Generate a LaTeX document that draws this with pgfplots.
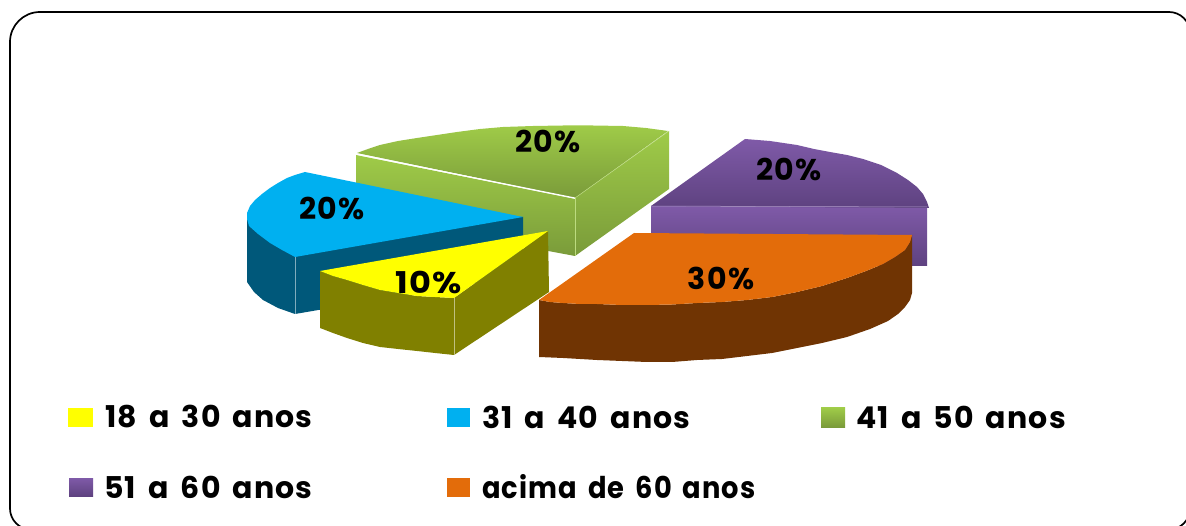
\documentclass[border=0pt]{standalone}
\usepackage{pgfplots}
\pgfplotsset{compat=1.18}
\usepackage{fontspec}
\setmainfont{Poppins}[LetterSpace=4,WordSpace=1.6]
\definecolor{gT}{HTML}{9FCB48}\definecolor{gB}{HTML}{7A9B3A}
\definecolor{pT}{HTML}{7F5AA8}\definecolor{pB}{HTML}{5E4280}
\definecolor{oT}{HTML}{E36C0A}\definecolor{oS}{HTML}{703403}
\definecolor{bT}{HTML}{00B0F0}\definecolor{bS}{HTML}{00587A}
\definecolor{yS}{HTML}{808000}\definecolor{yT}{HTML}{FFFF00}
\newcommand{\lab}[1]{\fontsize{30}{34}\selectfont\bfseries #1}
\newcommand{\leg}[1]{\fontsize{30}{34}\selectfont\bfseries #1}
\begin{document}
\begin{tikzpicture}
\begin{axis}[scale only axis,width=1186pt,height=526pt,xmin=0,xmax=1186,ymin=0,ymax=526,y dir=reverse,hide axis,clip=true]
\addplot[draw=none,forget plot] coordinates {(0,0)(1186,526)};
% frame
\addplot[black,line width=1.7pt,rounded corners=30pt] coordinates {(10,100)(10,12)(200,12)};
\addplot[black,line width=1.7pt,rounded corners=21pt] coordinates {(200,12)(1190,12)(1190,529.5)(10,529.5)(10,100)};
% green
\addplot[draw=none,top color=gT,bottom color=gB] coordinates {(356,155)(575,199)(575,256)(356,215)} -- cycle;
\addplot[draw=none,top color=gT,bottom color=gB] coordinates {(575,198)(669,131)(669,189)(575,256)} -- cycle;
\addplot[draw=none,top color=gT,bottom color=gB] coordinates {(357,153)(368,149)(380,145)(398,141)(417,138)(437,135)(457,132)(480,129)(503,127)(533,126)(563,125.5)(593,125.5)(623,126)(646,128)(668,131)(575,198)} -- cycle;
\addplot[white,line width=1pt] coordinates {(356,154)(575,198)};
\addplot[gT!70!white,line width=.5pt] coordinates {(575,198)(669,131)};
\addplot[gT!70!white,line width=.5pt] coordinates {(575,198)(575,256)};
% blue
\addplot[draw=none,fill=bS] coordinates {(247,213)(247,282)(254,292)(263,300)(278,308)(295,314)(523,275)(523,217)} -- cycle;
\addplot[draw=none,fill=bT] coordinates {(305,172)(295,175)(287,178)(278,183)(270,188)(262,194)(255,200)(250,206)(247,213)(247,219)(249,226)(258,234)(270,243)(282,250)(295,257)(523,217)} -- cycle;
\addplot[white!50!bS,line width=.4pt] coordinates {(295,257)(295,314)};
% yellow
\addplot[draw=none,fill=yS] coordinates {(320,271)(333,276)(347,280)(363,285)(380,290)(398,293)(417,296)(435,297)(454,298)(548,231)(549,292)(454,355)(435,353)(417,351)(398,349)(380,347)(363,343)(347,338)(333,333)(320,328)} -- cycle;
\addplot[draw=none,fill=yT] coordinates {(320,271)(333,276)(347,280)(363,285)(380,290)(398,293)(417,296)(435,297)(454,298)(548,231)} -- cycle;
\addplot[white!50!yS,line width=.4pt] coordinates {(454,298)(454,355)};
% purple
\addplot[draw=none,top color=pT,bottom color=pB] coordinates {(651,206)(927,207)(927,266)(651,266)} -- cycle;
\addplot[draw=none,top color=pT,bottom color=pB] coordinates {(745,139)(770,141)(797,145)(814,149)(830,152)(847,155)(863,159)(881,165)(897,173)(908,180)(917,187)(923,194)(927,202)(929,208)(651,206)} -- cycle;
\addplot[pT!60!white,line width=.5pt] coordinates {(651,206)(927,207)};
% orange
\addplot[draw=none,fill=oS] coordinates {(539,300)(550,302)(563,303)(580,304)(597,304)(622,305)(647,305)(672,304.5)(697,303)(722,302)(747,300)(772,297)(797,292)(822,286)(847,278)(866,271)(883,264)(895,257)(905,250)(910,242)(912,235)(912,293)(910,300)(905,307)(898,314)(888,321)(870,329)(847,337)(822,343)(797,348)(772,353)(747,356)(722,359)(697,360)(672,362)(647,362)(622,361)(597,360)(580,359)(563,358)(539,357)} -- cycle;
\addplot[draw=none,fill=oT] coordinates {(634,233)(912,235)(910,242)(905,250)(895,257)(883,264)(866,271)(847,278)(822,286)(797,292)(772,297)(747,300)(722,302)(697,303)(672,304.5)(647,305)(622,305)(597,304)(580,304)(563,303)(550,302)(539,300)} -- cycle;
% value labels
\node at (axis cs:548,141) {\lab{20\%}};
\node at (axis cs:789,169) {\lab{20\%}};
\node at (axis cs:332,208) {\lab{20\%}};
\node at (axis cs:429,282) {\scalebox{1.12}[1]{\lab{10\%}}};
\node at (axis cs:721,278) {\lab{30\%}};
% legend swatches
\addplot[draw=none,fill=yT] coordinates {(68,408)(93,408)(93,427)(68,427)} -- cycle;
\addplot[draw=none,fill=bT] coordinates {(447,408)(470,408)(470,427)(447,427)} -- cycle;
\addplot[draw=none,top color=gT,bottom color=gB] coordinates {(821,408)(845,408)(845,427)(821,427)} -- cycle;
\addplot[draw=none,top color=pT,bottom color=pB] coordinates {(69,478)(93,478)(93,496)(69,496)} -- cycle;
\addplot[draw=none,fill=oT] coordinates {(447,478)(470,478)(470,497)(447,497)} -- cycle;
% legend text
\node[anchor=west,inner sep=0pt] at (axis cs:105,417) {\leg{18 a 30 anos}};
\node[anchor=west,inner sep=0pt] at (axis cs:482,417) {\leg{31 a 40 anos}};
\node[anchor=west,inner sep=0pt] at (axis cs:856,417) {\leg{41 a 50 anos}};
\node[anchor=west,inner sep=0pt] at (axis cs:104,487) {\leg{51 a 60 anos}};
\node[anchor=west,inner sep=0pt] at (axis cs:482,487) {\scalebox{0.91}[1]{\leg{acima de 60 anos}}};
\end{axis}
\end{tikzpicture}
\end{document}
